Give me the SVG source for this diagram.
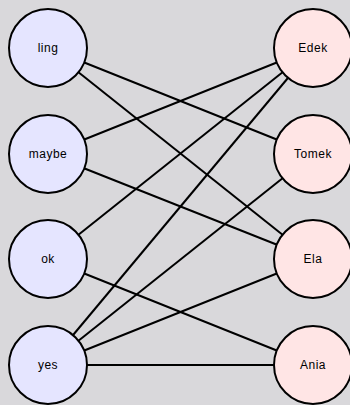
<svg xmlns="http://www.w3.org/2000/svg" width="350" height="405" viewBox="0 0 350 405">
<style>
.bg{fill:#d9d8db}
.l{fill:#e5e5ff;stroke:#000;stroke-width:2}
.r{fill:#ffe5e5;stroke:#000;stroke-width:2}
.e{stroke:#000;stroke-width:2;fill:none}
text{font-family:"Liberation Sans",Arial,sans-serif;font-size:12px;text-anchor:middle;dominant-baseline:central;fill:#000;letter-spacing:0.5px}
</style>
<rect class="bg" x="0" y="0" width="350" height="405"/>
<g id="connectors">
<line class="e" x1="48" y1="48" x2="313" y2="154"/>
<line class="e" x1="48" y1="48" x2="313" y2="259"/>
<line class="e" x1="48" y1="154" x2="313" y2="48"/>
<line class="e" x1="48" y1="154" x2="313" y2="259"/>
<line class="e" x1="48" y1="259" x2="313" y2="48"/>
<line class="e" x1="48" y1="259" x2="313" y2="365"/>
<line class="e" x1="48" y1="365" x2="313" y2="48"/>
<line class="e" x1="48" y1="365" x2="313" y2="154"/>
<line class="e" x1="48" y1="365" x2="313" y2="259"/>
<line class="e" x1="48" y1="365" x2="313" y2="365"/>
</g>
<g id="ling"><circle class="l" cx="48" cy="48" r="39"/><text x="48" y="48">ling</text></g>
<g id="maybe"><circle class="l" cx="48" cy="154" r="39"/><text x="48" y="154">maybe</text></g>
<g id="ok"><circle class="l" cx="48" cy="259" r="39"/><text x="48" y="259">ok</text></g>
<g id="yes"><circle class="l" cx="48" cy="365" r="39"/><text x="48" y="365">yes</text></g>
<g id="Edek"><circle class="r" cx="313" cy="48" r="39"/><text x="313" y="48">Edek</text></g>
<g id="Tomek"><circle class="r" cx="313" cy="154" r="39"/><text x="313" y="154">Tomek</text></g>
<g id="Ela"><circle class="r" cx="313" cy="259" r="39"/><text x="313" y="259">Ela</text></g>
<g id="Ania"><circle class="r" cx="313" cy="365" r="39"/><text x="313" y="365">Ania</text></g>
</svg>
